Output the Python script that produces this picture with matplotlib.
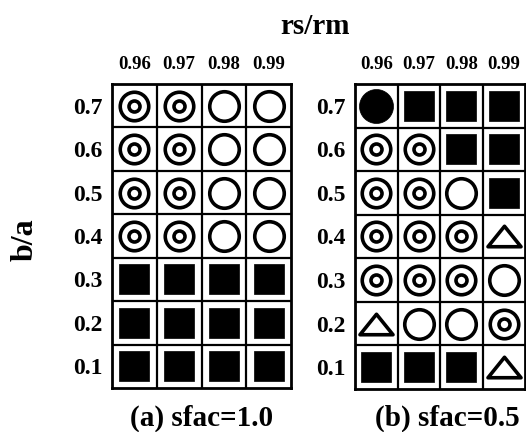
import numpy as np
import matplotlib
matplotlib.use("Agg")
import matplotlib.pyplot as plt
from matplotlib.path import Path

plt.rcParams['font.family'] = ['Liberation Serif', 'DejaVu Serif']
plt.rcParams['font.weight'] = 'bold'

rs_rm = ["0.96", "0.97", "0.98", "0.99"]
b_a = ["0.7", "0.6", "0.5", "0.4", "0.3", "0.2", "0.1"]

# D = double circle, O = open circle, S = filled square, F = filled circle, T = open triangle
grid_sfac10 = [
    "DDOO",
    "DDOO",
    "DDOO",
    "DDOO",
    "SSSS",
    "SSSS",
    "SSSS",
]
grid_sfac05 = [
    "FSSS",
    "DDSS",
    "DDOS",
    "DDDT",
    "DDDO",
    "TOOD",
    "SSST",
]
captions = ["(a) sfac=1.0", "(b) sfac=0.5"]

PX = 0.72  # points per pixel at dpi=100
LW = 2.6

# flat triangle, wider than tall
tri = Path([(-1, -0.62), (1, -0.62), (0, 0.62), (-1, -0.62)],
           [Path.MOVETO, Path.LINETO, Path.LINETO, Path.CLOSEPOLY])


def sz(d):
    return (d * PX) ** 2


def draw_symbols(ax, codes):
    nrow = len(codes)
    for r, row in enumerate(codes):
        y = nrow - 1 - r
        for c, code in enumerate(row):
            if code == "D":
                ax.scatter(c, y, s=sz(28.5), marker='o', facecolor='white', edgecolor='black', linewidth=LW, zorder=3)
                ax.scatter(c, y, s=sz(11), marker='o', facecolor='white', edgecolor='black', linewidth=LW, zorder=4)
            elif code == "O":
                ax.scatter(c, y, s=sz(29.5), marker='o', facecolor='white', edgecolor='black', linewidth=LW, zorder=3)
            elif code == "S":
                ax.scatter(c, y, s=sz(30), marker='s', facecolor='black', edgecolor='black', linewidth=0.5, zorder=3)
            elif code == "F":
                ax.scatter(c, y, s=sz(34), marker='o', facecolor='black', edgecolor='black', linewidth=0.5, zorder=3)
            elif code == "T":
                ax.scatter(c, y, s=sz(33), marker=tri, facecolor='white', edgecolor='black', linewidth=LW, zorder=3)


fig = plt.figure(figsize=(5.26, 4.32), dpi=100)
W, H = 526, 432
boxes = [(112, 84, 291, 388), (355, 84, 525, 389)]
cap_x = [202, 447]

for (x0, y0, x1, y1), codes, cap, cx in zip(boxes, [grid_sfac10, grid_sfac05], captions, cap_x):
    ax = fig.add_axes([x0 / W, 1 - y1 / H, (x1 - x0) / W, (y1 - y0) / H])
    ncol, nrow = len(rs_rm), len(b_a)
    ax.set_xlim(-0.5, ncol - 0.5)
    ax.set_ylim(-0.5, nrow - 0.5)
    for i in range(1, ncol):
        ax.axvline(i - 0.5, color='black', linewidth=1.6, zorder=1)
    for j in range(1, nrow):
        ax.axhline(j - 0.5, color='black', linewidth=1.6, zorder=1)
    for sp in ax.spines.values():
        sp.set_linewidth(2)
    draw_symbols(ax, codes)

    ax.xaxis.tick_top()
    ax.set_xticks(range(ncol))
    ax.set_xticklabels(rs_rm, fontsize=13.5, fontweight='bold')
    ax.set_yticks(range(nrow))
    ax.set_yticklabels(b_a[::-1], fontsize=17, fontweight='bold')
    ax.tick_params(length=0, pad=7)
    ax.tick_params(axis='x', pad=8)
    fig.text(cx / W, 1 - 418 / H, cap, ha='center', va='center', fontsize=21, fontweight='bold')

fig.text(315 / W, 1 - 26 / H, "rs/rm", ha='center', va='center', fontsize=21, fontweight='bold')
fig.text(25 / W, 1 - 240 / H, "b/a", ha='center', va='center', rotation=90, fontsize=23, fontweight='bold')

fig.savefig("out.png", dpi=100)
